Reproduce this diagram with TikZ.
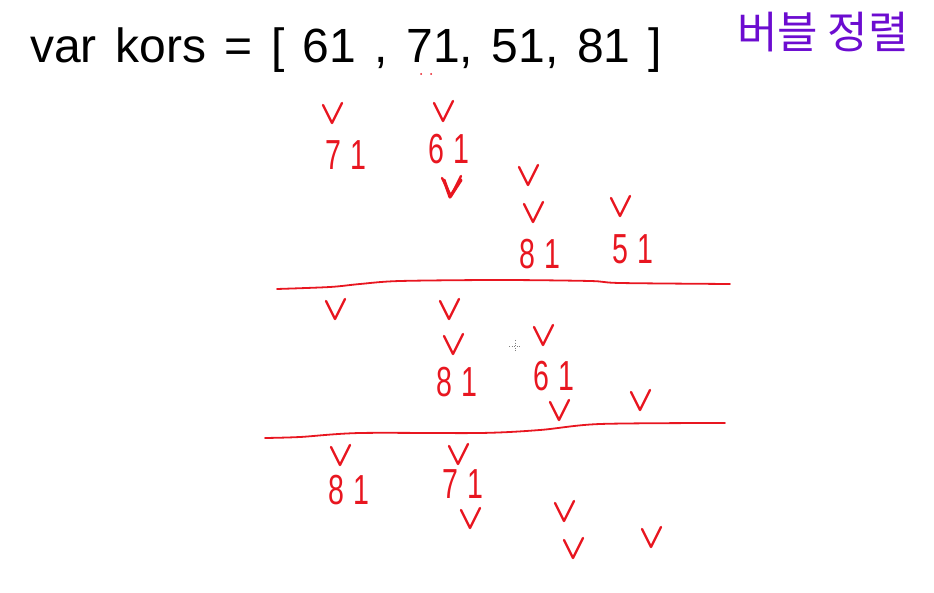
\documentclass[tikz,border=0pt]{standalone}
\usepackage{fontspec}
\setmainfont{Liberation Sans}
\newfontfamily\hangul{Noto Sans CJK KR}
\definecolor{pen}{RGB}{232,22,32}
\definecolor{penviolet}{RGB}{108,12,208}
\tikzset{
  chk/.style={pen, line width=2.4pt, line cap=round, line join=round},
  trait/.style={pen, line width=1.8pt, line cap=round},
  chiffre/.style={pen, inner sep=0pt, font=\fontsize{42}{42}\selectfont},
}
% checkmark centred at (x,y)
\newcommand{\coche}[2]{\draw[chk] (#1-9,#2-9) -- (#1,#2+9) -- (#1+10,#2-11);}
\newcommand{\nombre}[2]{\scalebox{0.68}[1]{#1\hspace{14pt}#2}}
\begin{document}
\begin{tikzpicture}[x=1pt,y=-1pt]
\useasboundingbox (0,0) rectangle (934,593);

% Titre
\node[anchor=base west, inner sep=0pt, font=\fontsize{48}{48}\selectfont,
  execute at begin node={\spaceskip=18.5pt plus 2pt}] (titre) at (30,63)
  {var kors = [ 61 , 71, 51, 81 ]};
\node[penviolet, font=\hangul\fontsize{44}{44}\selectfont] (tri) at (823,32) {버블 정렬};
\fill[pen] (421,74) circle (1) (431,74) circle (1);

% Premier passage
\coche{332}{114}
\coche{443}{112}
\node[chiffre] (a71) at (346,155) {\nombre{7}{1}};
\node[chiffre] (a61) at (449,149) {\nombre{6}{1}};
\coche{451}{187}
\draw[chk, line width=3.2pt] (444,180) -- (450,197) -- (461,180);
\coche{528}{176}
\coche{533}{213}
\coche{620}{207}
\node[chiffre] (a81) at (540,254) {\nombre{8}{1}};
\node[chiffre] (a51) at (633,249) {\nombre{5}{1}};
\draw[trait] plot[smooth] coordinates {(277,289) (330,287) (360,284) (400,281) (500,280) (590,281) (620,283) (730,284)};

% Deuxieme passage
\coche{335}{310}
\coche{449}{310}
\coche{453}{345}
\coche{543}{336}
\draw[gray, line width=0.6pt, dotted] (509,346) -- (521,346) (515,340) -- (515,352);
\node[chiffre] (b81) at (457,382) {\nombre{8}{1}};
\node[chiffre] (b61) at (554,376) {\nombre{6}{1}};
\coche{559}{411}
\coche{640}{401}
\draw[trait] plot[smooth] coordinates {(265,438) (300,437) (360,433) (480,433) (540,430) (600,424) (725,423)};

% Troisieme passage
\coche{340}{456}
\coche{458}{455}
\node[chiffre] (c81) at (349,490) {\nombre{8}{1}};
\node[chiffre] (c71) at (463,484) {\nombre{7}{1}};
\coche{470}{519}
\coche{564}{512}
\coche{573}{549}
\coche{651}{538}

\end{tikzpicture}
\end{document}
